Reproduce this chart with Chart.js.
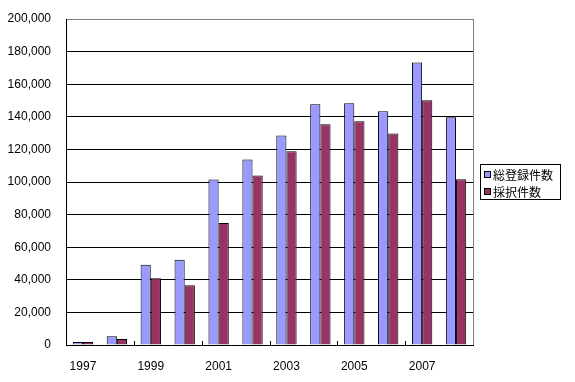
<!DOCTYPE html>
<html>
<head>
<meta charset="utf-8">
<script src="https://cdn.jsdelivr.net/npm/chart.js@4/dist/chart.umd.min.js"></script>
<style>
  body { margin: 0; background: #fff; }
  #wrap { width: 575px; height: 382px; }
</style>
</head>
<body>
<div id="wrap"><canvas id="barChart"></canvas></div>
<script>
var years = ["1997", "1998", "1999", "2000", "2001", "2002", "2003", "2004", "2005", "2006", "2007", "2008"];
var totalApplied = [1800, 5300, 49200, 52300, 101500, 113800, 128600, 147700, 148300, 143400, 173300, 139700];
var adopted = [1800, 3700, 41000, 36700, 74900, 104000, 118800, 135400, 137200, 129800, 150200, 101700];
var seriesNames = ["総登録件数", "採択件数"];
var seriesColors = ["#9999FF", "#993366"];

var numFont = { family: "'Liberation Sans', Arial, sans-serif", size: 12 };
var jpFont = "12px 'Noto Sans CJK JP', sans-serif";

// frame, small ticks on the bottom axis and a boxed legend like Excel
var excelFrame = {
	id: 'excelFrame',
	beforeDraw: function(chart) {
		var c = chart.ctx;
		c.save();
		c.fillStyle = '#fff';
		c.fillRect(0, 0, chart.width, chart.height);
		c.restore();
	},
	afterDraw: function(chart) {
		var c = chart.ctx;
		var a = chart.chartArea;
		var xs = chart.scales.x;
		c.save();
		c.strokeStyle = '#808080';
		c.lineWidth = 1;
		c.beginPath();
		c.moveTo(Math.round(a.right) + 0.5, a.top);
		c.lineTo(Math.round(a.right) + 0.5, a.bottom);
		c.stroke();
		// ticks between every second category
		c.strokeStyle = '#000';
		var step = (xs.getPixelForValue(1) - xs.getPixelForValue(0));
		for (var i = 2; i < years.length; i += 2) {
			var px = Math.round(xs.getPixelForValue(i) - step / 2) + 0.5;
			c.beginPath();
			c.moveTo(px, a.bottom);
			c.lineTo(px, a.bottom - 4);
			c.stroke();
		}
		// legend
		var lx = 480, ly = 164, lw = 80, lh = 35;
		c.strokeStyle = '#000';
		c.strokeRect(lx + 0.5, ly + 0.5, lw, lh);
		c.font = jpFont;
		c.textBaseline = 'middle';
		for (var j = 0; j < seriesNames.length; j++) {
			var y = ly + 10 + j * 17;
			c.fillStyle = seriesColors[j];
			c.fillRect(lx + 4, y - 3, 7, 7);
			c.strokeRect(lx + 4.5, y - 2.5, 6, 6);
			c.fillStyle = '#000';
			c.fillText(seriesNames[j], lx + 13, y + 1);
		}
		c.restore();
	}
};

var ctx = document.getElementById("barChart").getContext('2d');
var myBarChart = new Chart(ctx, {
	type : 'bar',
	data : {
		labels : years,
		datasets : [ {
			label : seriesNames[0],
			data : totalApplied,
			backgroundColor : seriesColors[0],
			borderColor : '#000',
			borderWidth : 1,
			borderSkipped : 'bottom'
		}, {
			label : seriesNames[1],
			data : adopted,
			backgroundColor : seriesColors[1],
			borderColor : '#000',
			borderWidth : 1,
			borderSkipped : 'bottom'
		} ]
	},
	options : {
		responsive : true,
		maintainAspectRatio : false,
		animation : false,
		devicePixelRatio : 1,
		layout : { padding : { left : 0, top : 19, right : 102, bottom : 0 } },
		plugins : {
			legend : { display : false },
			tooltip : { enabled : false }
		},
		datasets : {
			bar : { categoryPercentage : 0.6, barPercentage : 1.0 }
		},
		scales : {
			x : {
				grid : { display : false },
				border : { color : '#000', width : 1 },
				ticks : {
					autoSkip : false,
					maxRotation : 0,
					color : '#000',
					font : numFont,
					padding : 6,
					callback : function(v, i) { return i % 2 === 0 ? years[i] : ''; }
				},
				afterFit : function(s) { s.height = 37; }
			},
			y : {
				min : 0,
				max : 200000,
				grid : {
					drawTicks : true,
					tickLength : 12,
					tickColor : 'rgba(0,0,0,0)',
					color : function(c) { return c.tick && c.tick.value === 200000 ? '#808080' : '#000'; }
				},
				border : { color : '#000', width : 1 },
				ticks : {
					stepSize : 20000,
					color : '#000',
					font : numFont,
					padding : 3,
					callback : function(v) { return v.toLocaleString('en-US'); }
				},
				afterFit : function(s) { s.width = 66; }
			}
		}
	},
	plugins : [ excelFrame ]
});
</script>
</body>
</html>
